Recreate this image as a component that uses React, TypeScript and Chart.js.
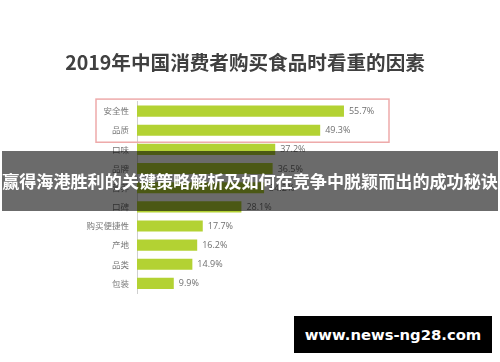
import React, { useEffect, useRef } from "react";
import { Chart, registerables } from "chart.js";

Chart.register(...registerables);

const TITLE = "2019年中国消费者购买食品时看重的因素";
const categories = ["安全性", "品质", "口味", "品牌", "营养", "口碑", "购买便捷性", "产地", "品类", "包装"];
const values = [55.7, 49.3, 37.2, 36.5, 34.2, 28.1, 17.7, 16.2, 14.9, 9.9];
const BANNER = "赢得海港胜利的关键策略解析及如何在竞争中脱颖而出的成功秘诀";
const WATERMARK = "www.news-ng28.com";

const valueLabels = {
  id: "valueLabels",
  afterDatasetsDraw(chart: any) {
    const ctx = chart.ctx;
    const meta = chart.getDatasetMeta(0);
    ctx.save();
    ctx.font = "9px 'Open Sans', 'Noto Sans', sans-serif";
    ctx.fillStyle = "#6f6f6f";
    ctx.textAlign = "left";
    ctx.textBaseline = "middle";
    meta.data.forEach((el: any, i: number) => {
      ctx.fillText(values[i].toFixed(1) + "%", el.x + 5, el.y + 0.5);
    });
    // highlight box around top two rows
    const y = chart.scales.y;
    const top = y.getPixelForValue(0) - 12;
    const bottom = y.getPixelForValue(1) + 12;
    ctx.strokeStyle = "#eeaaaa";
    ctx.lineWidth = 1.5;
    ctx.strokeRect(96, top, 293, bottom - top);
    ctx.restore();
  },
};

export default function App() {
  const ref = useRef<HTMLCanvasElement>(null);
  useEffect(() => {
    if (!ref.current) return;
    const chart = new Chart(ref.current, {
      type: "bar",
      data: {
        labels: categories,
        datasets: [
          {
            data: values,
            backgroundColor: "#b3d233",
            barPercentage: 0.58,
            categoryPercentage: 1,
          },
        ],
      },
      options: {
        animation: false,
        responsive: false,
        indexAxis: "y",
        layout: { padding: { left: 0, right: 10, top: 0, bottom: 69 } },
        plugins: {
          legend: { display: false },
          tooltip: { enabled: false },
          title: {
            display: true,
            text: TITLE,
            color: "#404040",
            font: { size: 19.6, weight: "bold", family: "'Noto Sans CJK SC', sans-serif", lineHeight: 1.2 },
            padding: { top: 51.2, bottom: 26.8 },
          },
        },
        scales: {
          x: { display: false, min: 0, max: 95 },
          y: {
            grid: { display: false, drawTicks: false },
            border: { display: true, color: "#cfcfcf", width: 1 },
            ticks: {
              color: "#777777",
              padding: 8,
              font: { size: 8.5, family: "'Noto Sans CJK SC', sans-serif" },
            },
            afterFit: (scale: any) => {
              scale.width = 137;
            },
          },
        },
      },
      plugins: [valueLabels],
    });
    return () => chart.destroy();
  }, []);

  return (
    <div style={{ position: "absolute", left: 0, top: 0, width: 500, height: 362, background: "#fff", overflow: "hidden" }}>
      <canvas ref={ref} width={500} height={362} style={{ display: "block" }} />
      <div
        style={{
          position: "absolute",
          left: 2,
          top: 151,
          width: 496,
          height: 60,
          background: "rgba(0,0,0,0.58)",
          color: "#fff",
          fontFamily: "'Noto Sans CJK SC', sans-serif",
          fontWeight: "bold",
          fontSize: 17.1,
          lineHeight: "60px",
          textAlign: "center",
          whiteSpace: "nowrap",
        }}
      >
        {BANNER}
      </div>
      <div
        style={{
          position: "absolute",
          left: 294,
          top: 316,
          width: 198,
          height: 37,
          background: "#000",
          color: "#fff",
          fontFamily: "'DejaVu Sans', sans-serif",
          fontWeight: "bold",
          fontSize: 14.8,
          lineHeight: "37px",
          textAlign: "center",
          whiteSpace: "nowrap",
        }}
      >
        {WATERMARK}
      </div>
    </div>
  );
}
